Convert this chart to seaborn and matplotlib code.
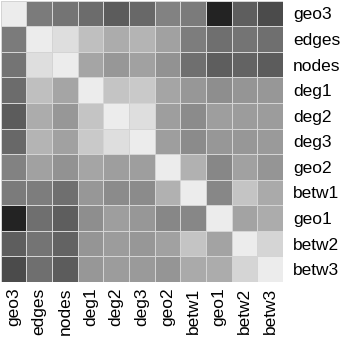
import matplotlib
matplotlib.use('Agg')
import matplotlib.pyplot as plt
import numpy as np
import pandas as pd
import seaborn as sns


labels = ['geo3', 'edges', 'nodes', 'deg1', 'deg2', 'deg3',
          'geo2', 'betw1', 'geo1', 'betw2', 'betw3']

geo3 = [1.00, .52, .49, .46, .39, .44, .55, .52, .15, .40, .32]
edges = [.52, 1.00, .94, .81, .73, .76, .68, .53, .47, .49, .47]
nodes = [.49, .94, 1.00, .70, .64, .68, .62, .47, .40, .42, .39]
deg1 = [.46, .81, .70, 1.00, .83, .85, .70, .64, .60, .63, .64]
deg2 = [.39, .73, .64, .83, 1.00, .94, .67, .59, .67, .66, .66]
deg3 = [.44, .76, .68, .85, .94, 1.00, .67, .59, .64, .64, .65]
geo2 = [.55, .68, .62, .70, .67, .67, 1.00, .75, .57, .68, .63]
betw1 = [.52, .53, .47, .64, .59, .59, .75, 1.00, .57, .83, .72]
geo1 = [.15, .47, .40, .60, .67, .64, .57, .57, 1.00, .69, .73]
betw2 = [.40, .49, .42, .63, .66, .64, .68, .83, .69, 1.00, .90]
betw3 = [.32, .47, .39, .64, .66, .65, .63, .72, .73, .90, 1.00]

rows = [geo3, edges, nodes, deg1, deg2, deg3, geo2, betw1, geo1, betw2, betw3]
df = pd.DataFrame(rows, index=labels, columns=labels)

plt.rcParams['font.family'] = ['Liberation Sans', 'DejaVu Sans']

fig = plt.figure(figsize=(3.47, 3.46), dpi=100)
ax = fig.add_axes([0.002, 0.185, 0.814, 0.813])

sns.heatmap(df, cmap='gray', vmin=0, vmax=255 / 236, cbar=False,
            linewidths=0.6, linecolor='#d4d4d4', square=False, ax=ax)

ax.yaxis.tick_right()
ax.set_yticklabels(labels, rotation=0, fontsize=12.5)
ax.set_xticklabels(labels, rotation=90, fontsize=12.5)
ax.tick_params(axis='y', length=0, pad=7)
ax.tick_params(axis='x', length=0, pad=4)
ax.set_xlabel('')
ax.set_ylabel('')

fig.savefig('out.png', dpi=100)
